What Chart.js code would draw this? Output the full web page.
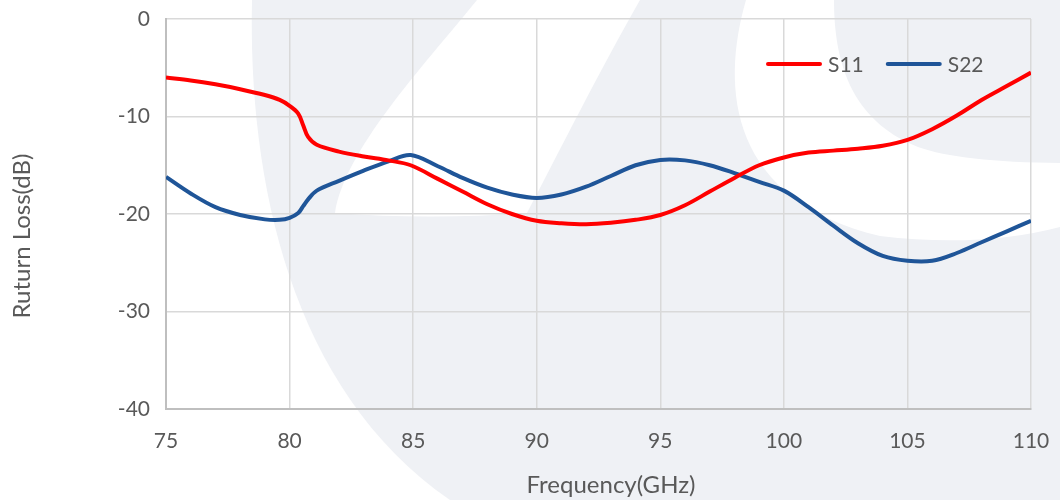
<!DOCTYPE html>
<html>
<head>
<meta charset="utf-8">
<script src="https://cdn.jsdelivr.net/npm/chart.js@4.4.1/dist/chart.umd.min.js"></script>
<style>
  html, body { margin: 0; padding: 0; background: #fff; }
  #wrap { width: 1060px; height: 500px; }
</style>
</head>
<body>
<div id="wrap"><canvas id="rlChart" width="1060" height="500"></canvas></div>
<script>
// frequency points (GHz) and return loss readings (dB)
const freq = [75, 76, 77, 78, 79, 79.6, 80, 80.35, 80.55, 80.75, 81.1, 82, 83, 84, 84.9,
  86, 87, 88, 89, 90, 91, 92, 93, 94, 95, 96, 97, 98, 99, 100,
  101, 102, 103, 104, 105, 106, 107, 108, 109, 110];
const s11 = [-6.0, -6.3, -6.7, -7.2, -7.8, -8.3, -8.9, -9.7, -10.9, -12.1, -12.9, -13.6, -14.1, -14.5, -15.0,
  -16.4, -17.7, -19.0, -20.0, -20.7, -20.95, -21.05, -20.9, -20.6, -20.1, -19.1, -17.7, -16.3, -15.0, -14.2,
  -13.7, -13.5, -13.3, -13.0, -12.4, -11.3, -9.9, -8.3, -6.9, -5.5];
const s22 = [-16.2, -17.9, -19.3, -20.1, -20.55, -20.6, -20.4, -19.9, -19.2, -18.5, -17.6, -16.6, -15.55, -14.6, -13.95,
  -15.1, -16.3, -17.3, -18.0, -18.35, -18.0, -17.2, -16.1, -15.0, -14.45, -14.5, -15.0, -15.8, -16.7, -17.6,
  -19.3, -21.2, -23.0, -24.3, -24.8, -24.8, -24.0, -22.9, -21.8, -20.7];
const seriesNames = ["S11", "S22"];
const seriesColors = ["#ff0000", "#1f5598"];
const xTicks = [75, 80, 85, 90, 95, 100, 105, 110];
const yTicks = [0, -10, -20, -30, -40];
const xTitle = "Frequency(GHz)";
const yTitle = "Ruturn Loss(dB)";

const FONT = "Lato, 'Open Sans', sans-serif";
const TEXT = "#595959";

function toPoints(vals) {
  return freq.map((f, i) => ({ x: f, y: vals[i] }));
}

// light company watermark behind the plot
const watermark = {
  id: "watermark",
  beforeDraw(chart) {
    const c = chart.ctx;
    c.save();
    c.fillStyle = "#ffffff";
    c.fillRect(0, 0, chart.width, chart.height);
    c.fillStyle = "#eff1f5";
    c.beginPath();
    c.moveTo(252, 0);
    c.bezierCurveTo(248, 180, 290, 390, 450, 500);
    c.lineTo(1060, 500);
    c.lineTo(1060, 0);
    c.closePath();
    c.fill();
    c.fillStyle = "#ffffff";
    // diagonal stripe
    c.beginPath();
    c.moveTo(477, 0);
    c.bezierCurveTo(420, 70, 345, 150, 335, 213);
    c.quadraticCurveTo(430, 220, 527, 213);
    c.bezierCurveTo(560, 150, 600, 70, 640, 0);
    c.closePath();
    c.fill();
    // crescent
    c.beginPath();
    c.moveTo(746, 0);
    c.bezierCurveTo(720, 90, 730, 200, 880, 236);
    c.quadraticCurveTo(980, 248, 1060, 227);
    c.lineTo(1060, 163);
    c.quadraticCurveTo(960, 162, 918, 147);
    c.bezierCurveTo(850, 120, 834, 60, 834, 0);
    c.closePath();
    c.fill();
    c.restore();
  },
};

// axis titles + legend inside the plot
const labelsPlugin = {
  id: "labelsPlugin",
  afterDraw(chart) {
    const c = chart.ctx;
    c.save();
    c.fillStyle = TEXT;
    c.font = "24px " + FONT;
    c.textAlign = "center";
    c.textBaseline = "middle";
    c.fillText(xTitle, 611, 485);
    c.translate(22, 236);
    c.rotate(-Math.PI / 2);
    c.fillText(yTitle, 0, 0);
    c.restore();

    c.save();
    c.font = "21px " + FONT;
    c.textBaseline = "middle";
    c.lineCap = "round";
    c.lineWidth = 4;
    let x = 768;
    const y = 64;
    chart.data.datasets.forEach((ds) => {
      c.strokeStyle = ds.borderColor;
      c.beginPath();
      c.moveTo(x, y);
      c.lineTo(x + 52, y);
      c.stroke();
      c.fillStyle = TEXT;
      c.fillText(ds.label, x + 60, y + 1);
      x += 60 + c.measureText(ds.label).width + 24;
    });
    c.restore();
  },
};

const ctx = document.getElementById("rlChart").getContext("2d");
const rlChart = new Chart(ctx, {
  type: "line",
  data: {
    datasets: [
      {
        label: seriesNames[0],
        data: toPoints(s11),
        borderColor: seriesColors[0],
        borderWidth: 4,
        pointRadius: 0,
        tension: 0.35,
      },
      {
        label: seriesNames[1],
        data: toPoints(s22),
        borderColor: seriesColors[1],
        borderWidth: 4,
        pointRadius: 0,
        tension: 0.35,
      },
    ],
  },
  options: {
    responsive: false,
    animation: false,
    layout: { padding: { left: 0, top: 19, right: 29, bottom: 0 } },
    plugins: {
      legend: { display: false },
      tooltip: { enabled: false },
    },
    scales: {
      x: {
        type: "linear",
        min: 75,
        max: 110,
        afterBuildTicks: (s) => { s.ticks = xTicks.map((v) => ({ value: v })); },
        afterFit: (s) => { s.height = 91; s.paddingLeft = 0; s.paddingRight = 0; },
        grid: { color: "#d9d9d9", lineWidth: 1.5, drawTicks: false },
        border: { color: "#bfbfbf", width: 2 },
        ticks: { color: TEXT, font: { family: FONT, size: 21 }, padding: 20, maxRotation: 0 },
      },
      y: {
        min: -40,
        max: 0,
        afterBuildTicks: (s) => { s.ticks = yTicks.map((v) => ({ value: v })); },
        afterFit: (s) => { s.width = 166; s.paddingTop = 0; s.paddingBottom = 0; },
        grid: { color: "#d9d9d9", lineWidth: 1.5, drawTicks: false },
        border: { color: "#bfbfbf", width: 2 },
        ticks: { color: TEXT, font: { family: FONT, size: 21 }, padding: 16 },
      },
    },
  },
  plugins: [watermark, labelsPlugin],
});
</script>
</body>
</html>
